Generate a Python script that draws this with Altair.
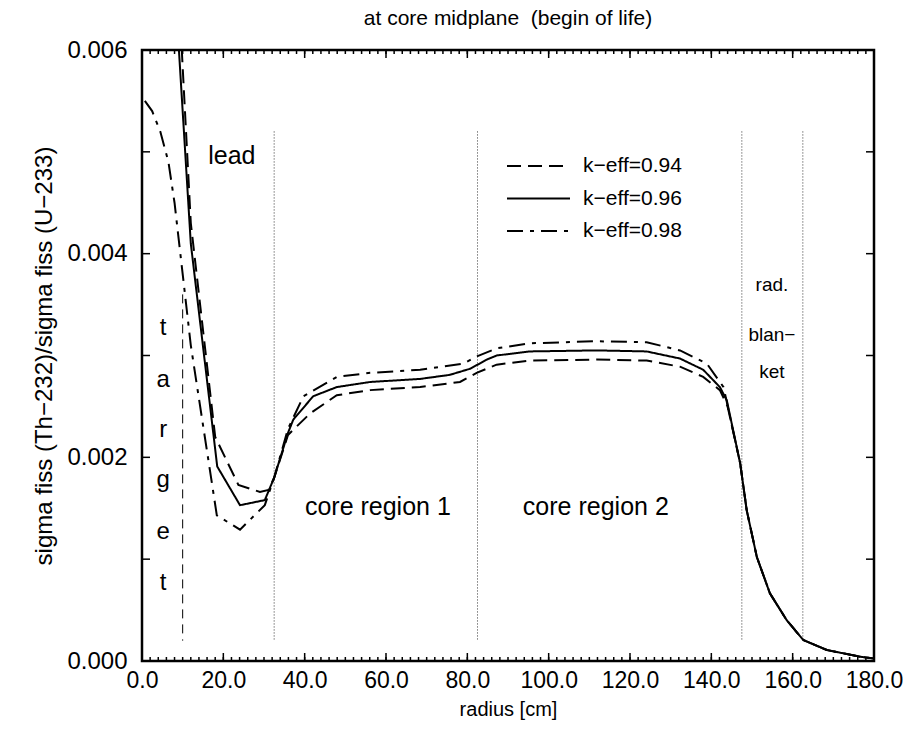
import altair as alt
import pandas as pd

# ---------------- data ----------------
series_names = ["k−eff=0.94", "k−eff=0.96", "k−eff=0.98"]

r_094 = [6.0, 12.0, 18.0, 23.7, 29.0, 31.1, 32.5, 35.9, 41.3, 47.9, 56.1, 68.4, 78.2, 82.3, 87.2, 95.4,
         111.8, 124.1, 132.3, 138.0, 142.1, 144.0, 147.1, 148.7, 151.2, 154.4, 158.5, 162.6, 168.4, 176.6, 180.0]
v_094 = [0.0089, 0.0043, 0.0022, 0.00173, 0.00166, 0.00168, 0.00180, 0.00222, 0.00243, 0.00261, 0.00266, 0.00269,
         0.00274, 0.00283, 0.00291, 0.00295, 0.00296, 0.00295, 0.00289, 0.00279, 0.00266, 0.00250, 0.00194,
         0.00148, 0.00102, 0.000665, 0.000403, 0.000206, 0.000108, 0.000042, 0.000025]

r_096 = [6.0, 12.0, 18.5, 24.1, 30.2, 32.5, 35.9, 37.2, 42.1, 47.9, 56.1, 68.4, 75.7, 80.7, 84.8, 87.2, 95.4,
         111.8, 124.1, 132.3, 138.0, 142.1, 143.8, 147.1, 148.7, 151.2, 154.4, 158.5, 162.6, 168.4, 176.6, 180.0]
v_096 = [0.0080, 0.0041, 0.00191, 0.00153, 0.00158, 0.00180, 0.00224, 0.00237, 0.00260, 0.00269, 0.00274, 0.00277,
         0.00281, 0.00287, 0.00296, 0.00300, 0.00304, 0.00305, 0.00304, 0.00297, 0.00286, 0.00269, 0.00256,
         0.00194, 0.00148, 0.00102, 0.000665, 0.000403, 0.000206, 0.000108, 0.000042, 0.000025]

r_098 = [0.7, 2.5, 4.5, 6.5, 8.0, 12.0, 18.4, 24.1, 30.2, 32.5, 35.9, 39.7, 47.9, 56.1, 68.4, 79.0, 82.3, 87.2,
         95.4, 111.8, 124.1, 132.3, 138.9, 143.0, 147.1, 148.7, 151.2, 154.4, 158.5, 162.6, 168.4, 176.6, 180.0]
v_098 = [0.0055, 0.0054, 0.0052, 0.0049, 0.0045, 0.0031, 0.00143, 0.00129, 0.00153, 0.00180, 0.00228, 0.00260,
         0.00279, 0.00283, 0.00286, 0.00292, 0.00299, 0.00307, 0.00312, 0.00314, 0.00313, 0.00305, 0.00292,
         0.00269, 0.00194, 0.00148, 0.00102, 0.000665, 0.000403, 0.000206, 0.000108, 0.000042, 0.000025]

# region boundaries (dotted) and target edge (dashed)
region_x = [32.5, 82.5, 147.5, 162.5]
region_y_top = 0.0052
region_y_bottom = 0.0002
target_x = [10.0]
target_y_top = 0.0036
target_y_bottom = 0.0002

# annotations
ann_text = ["lead", "core region 1", "core region 2"]
ann_r = [22.1, 58.0, 111.6]
ann_v = [0.00496, 0.00151, 0.00151]

target_letters = ["t", "a", "r", "g", "e", "t"]
target_letter_r = [5.2] * 6
target_letter_v = [0.00327, 0.00276, 0.00227, 0.00178, 0.00127, 0.00077]

blanket_text = ["rad.", "blan−", "ket"]
blanket_r = [154.9, 154.9, 154.9]
blanket_v = [0.00369, 0.00320, 0.00284]

x_major = [0, 20, 40, 60, 80, 100, 120, 140, 160, 180]
x_minor = list(range(0, 181, 2))
y_ticks = [0.0, 0.001, 0.002, 0.003, 0.004, 0.005, 0.006]
y_labels = [0.0, 0.002, 0.004, 0.006]

# ---------------- chart ----------------
W, H = 732, 611
FONT = "Liberation Sans"
DASHES = [[14, 7], [1, 0], [16, 7, 4, 7]]

rows = []
for name, rs, vs in [(series_names[0], r_094, v_094), (series_names[1], r_096, v_096), (series_names[2], r_098, v_098)]:
    for i, (r, v) in enumerate(zip(rs, vs)):
        rows.append({"series": name, "r": r, "v": v, "order": i})
df = pd.DataFrame(rows)

xscale = alt.Scale(domain=[0, 180], nice=False, zero=False)
yscale = alt.Scale(domain=[0, 0.006], nice=False, zero=False)

xenc = alt.X("r:Q", scale=xscale,
             axis=alt.Axis(title="radius [cm]", values=x_major, format=".1f", ticks=False, domain=False,
                           grid=False, labelFontSize=23, labelFont=FONT, labelPadding=8,
                           titleFontSize=20, titleFont=FONT, titleFontWeight="normal", titlePadding=7,
                           labelColor="black", titleColor="black", labelFlush=False))
yenc = alt.Y("v:Q", scale=yscale,
             axis=alt.Axis(title="sigma fiss (Th−232)/sigma fiss (U−233)", values=y_labels, format=".3f",
                           ticks=False, domain=False, grid=False, labelFontSize=24, labelFont=FONT,
                           labelPadding=15, titleFontSize=24, titleFont=FONT, titleFontWeight="normal",
                           titlePadding=10, labelColor="black", titleColor="black", labelFlush=False))

lines = alt.Chart(df).mark_line(color="black", strokeWidth=2, clip=True).encode(
    x=xenc, y=yenc, order="order:Q",
    strokeDash=alt.StrokeDash("series:N", scale=alt.Scale(domain=series_names, range=DASHES), legend=None)
)

# manual legend (samples + labels)
legend_layers = []
for i, name in enumerate(series_names):
    yy = 116 + 32.5 * i
    ld = pd.DataFrame({"t": [name]})
    legend_layers.append(alt.Chart(ld).mark_rule(color="black", strokeWidth=2, strokeDash=DASHES[i]).encode(
        x=alt.value(365), x2=alt.value(428), y=alt.value(yy)))
    legend_layers.append(alt.Chart(ld).mark_text(font=FONT, fontSize=21, color="black", align="left",
                                                 baseline="middle").encode(
        x=alt.value(441), y=alt.value(yy), text="t:N"))

reg_df = pd.DataFrame({"r": region_x, "v": [region_y_top] * len(region_x), "v2": [region_y_bottom] * len(region_x)})
regions = alt.Chart(reg_df).mark_rule(color="#333333", strokeWidth=1, strokeDash=[1, 2]).encode(
    x=alt.X("r:Q", scale=xscale), y=alt.Y("v:Q", scale=yscale), y2="v2:Q")

tgt_df = pd.DataFrame({"r": target_x, "v": [target_y_top], "v2": [target_y_bottom]})
target = alt.Chart(tgt_df).mark_rule(color="black", strokeWidth=1, strokeDash=[9, 6]).encode(
    x=alt.X("r:Q", scale=xscale), y=alt.Y("v:Q", scale=yscale), y2="v2:Q")

def text_layer(texts, rs, vs, size):
    d = pd.DataFrame({"t": texts, "r": rs, "v": vs})
    return alt.Chart(d).mark_text(font=FONT, fontSize=size, color="black", align="center",
                                  baseline="middle").encode(
        x=alt.X("r:Q", scale=xscale), y=alt.Y("v:Q", scale=yscale), text="t:N")

ann = text_layer(ann_text, ann_r, ann_v, 25)
tl = text_layer(target_letters, target_letter_r, target_letter_v, 24)
bl = text_layer(blanket_text, blanket_r, blanket_v, 19)

# inward ticks
xmaj_df = pd.DataFrame({"r": x_major})
xmin_df = pd.DataFrame({"r": x_minor})
yt_df = pd.DataFrame({"v": y_ticks})

def xticks(d, length):
    bottom = alt.Chart(d).mark_rule(color="black", strokeWidth=1.5).encode(
        x=alt.X("r:Q", scale=xscale), y=alt.value(H), y2=alt.value(H - length))
    top = alt.Chart(d).mark_rule(color="black", strokeWidth=1.5).encode(
        x=alt.X("r:Q", scale=xscale), y=alt.value(0), y2=alt.value(length))
    return bottom + top

yleft = alt.Chart(yt_df).mark_rule(color="black", strokeWidth=1.5).encode(
    y=alt.Y("v:Q", scale=yscale), x=alt.value(0), x2=alt.value(8))
yright = alt.Chart(yt_df).mark_rule(color="black", strokeWidth=1.5).encode(
    y=alt.Y("v:Q", scale=yscale), x=alt.value(W - 8), x2=alt.value(W))

frame = alt.Chart(pd.DataFrame({"f": [0]})).mark_rect(fill=None, stroke="black", strokeWidth=2.5).encode(
    x=alt.value(0), x2=alt.value(W), y=alt.value(0), y2=alt.value(H))

chart = alt.layer(
    regions, target, lines, ann, tl, bl, *legend_layers,
    xticks(xmin_df, 4), xticks(xmaj_df, 8), yleft, yright, frame
).properties(
    width=W, height=H,
    title=alt.TitleParams("at core midplane\u00a0\u00a0(begin of life)", font=FONT, fontSize=21,
                          fontWeight="normal", color="black", anchor="middle", offset=9),
    autosize=alt.AutoSizeParams(type="none"),
    padding={"left": 134, "top": 42, "right": 29, "bottom": 67},
).configure(background="white").configure_view(stroke=None)

chart.save("out.html", embed_options={"renderer": "svg", "actions": False})
